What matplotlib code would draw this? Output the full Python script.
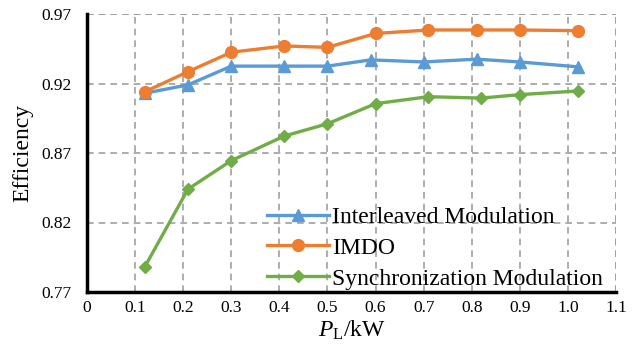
import matplotlib.pyplot as plt

# efficiency vs load power
x_il = [0.12, 0.21, 0.30, 0.41, 0.50, 0.59, 0.70, 0.81, 0.90, 1.02]
eff_il = [0.913, 0.919, 0.9325, 0.9325, 0.9325, 0.937, 0.9355, 0.9375, 0.9355, 0.932]

x_imdo = [0.12, 0.21, 0.30, 0.41, 0.50, 0.60, 0.71, 0.81, 0.90, 1.02]
eff_imdo = [0.914, 0.9285, 0.9425, 0.947, 0.946, 0.956, 0.9585, 0.9585, 0.9585, 0.958]

x_sync = [0.12, 0.21, 0.30, 0.41, 0.50, 0.60, 0.71, 0.82, 0.90, 1.02]
eff_sync = [0.788, 0.844, 0.8645, 0.8822, 0.891, 0.9055, 0.9105, 0.9095, 0.912, 0.9146]

xticks = [0, 0.1, 0.2, 0.3, 0.4, 0.5, 0.6, 0.7, 0.8, 0.9, 1.0, 1.1]
xtick_labels = ['0', '0.1', '0.2', '0.3', '0.4', '0.5', '0.6', '0.7', '0.8', '0.9', '1.0', '1.1']
yticks = [0.77, 0.82, 0.87, 0.92, 0.97]

plt.rcParams['font.family'] = ['Liberation Serif', 'DejaVu Serif']
plt.rcParams['mathtext.fontset'] = 'custom'
plt.rcParams['mathtext.it'] = 'Liberation Serif:italic'
plt.rcParams['mathtext.rm'] = 'Liberation Serif'

fig = plt.figure(figsize=(6.38, 3.56), dpi=100)
ax = fig.add_axes([87 / 638, 1 - 292 / 356, (616 - 87) / 638, (292 - 14) / 356])

ax.plot(x_il, eff_il, color='#5B9BD5', lw=2.4, marker='^', ms=8, label='Interleaved Modulation')
ax.plot(x_imdo, eff_imdo, color='#ED7D31', lw=2.4, marker='o', ms=8.5, label='IMDO')
ax.plot(x_sync, eff_sync, color='#70AD47', lw=2.4, marker='D', ms=6.5, label='Synchronization Modulation')

ax.set_xlim(0, 1.1)
ax.set_ylim(0.77, 0.97)
ax.set_xticks(xticks)
ax.set_xticklabels(xtick_labels)
ax.set_yticks(yticks)
ax.grid(True, color='#A0A0A0', ls=(0, (4, 3)), lw=1.2)
ax.set_axisbelow(True)

for s in ['top', 'right']:
    ax.spines[s].set_visible(False)
for s in ['left', 'bottom']:
    ax.spines[s].set_linewidth(2.5)
ax.tick_params(length=0, labelsize=12.5)
ax.tick_params(axis='x', pad=6)
ax.tick_params(axis='y', pad=11)

# dashed frame at the top and right, like the gridlines
ax.axhline(0.97, color='#A0A0A0', ls=(0, (4, 3)), lw=1.2, zorder=0)
ax.axvline(1.1, color='#A0A0A0', ls=(0, (4, 3)), lw=1.2, zorder=0)

ax.set_ylabel('Efficiency', fontsize=17, labelpad=6)
ax.set_xlabel(r'$P_{\mathrm{L}}$/kW', fontsize=17, labelpad=2)

ax.legend(loc='lower right', bbox_to_anchor=(0.996, -0.03), frameon=False, fontsize=17,
          handlelength=2.6, handletextpad=0.15, labelspacing=0.4, borderaxespad=0.05)

fig.savefig('out.png', dpi=100)
